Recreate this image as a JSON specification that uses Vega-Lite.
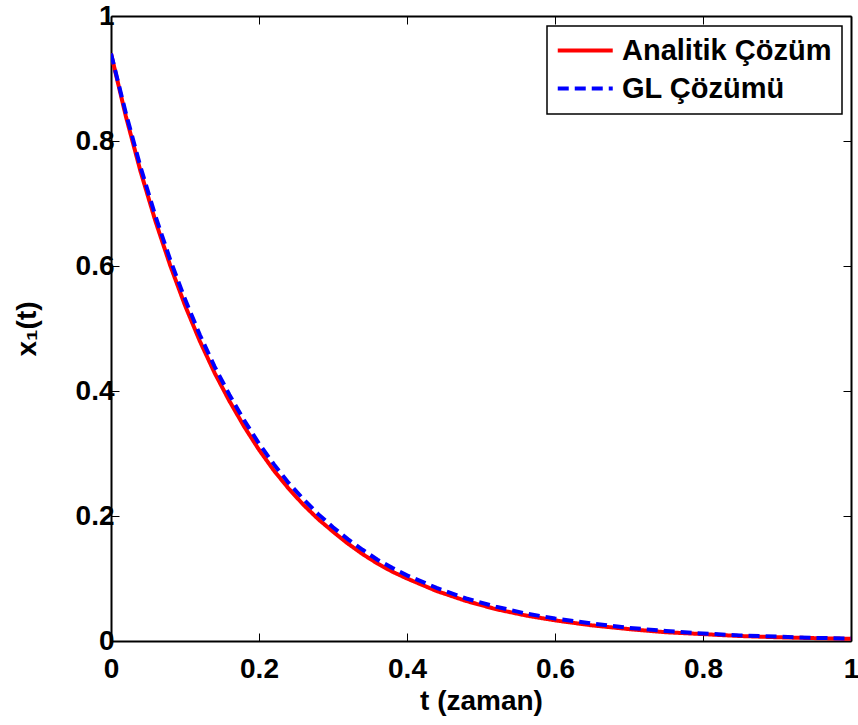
{
  "$schema": "https://vega.github.io/schema/vega-lite/v6.json",
  "width": 740,
  "height": 625,
  "autosize": {"type": "none"},
  "padding": {"left": 111, "top": 16, "right": 7, "bottom": 84},
  "background": "white",
  "config": {
    "view": {"stroke": null},
    "font": "Liberation Sans",
    "axis": {
      "grid": false,
      "labelFont": "Liberation Sans",
      "labelFontWeight": "bold",
      "labelFontSize": 28,
      "labelColor": "black",
      "titleFont": "Liberation Sans",
      "titleFontWeight": "bold",
      "titleFontSize": 28,
      "titleColor": "black",
      "domainColor": "black",
      "domainWidth": 2,
      "tickColor": "black",
      "tickWidth": 1,
      "tickSize": -8,
      "labelOverlap": false,
      "labelBound": false,
      "labelFlush": false
    }
  },
  "datasets": {
    "curves": [
      {"t": 0, "x": 0.94, "s": "Analitik Çözüm"},
      {"t": 0.02, "x": 0.84, "s": "Analitik Çözüm"},
      {"t": 0.04, "x": 0.751, "s": "Analitik Çözüm"},
      {"t": 0.06, "x": 0.672, "s": "Analitik Çözüm"},
      {"t": 0.08, "x": 0.601, "s": "Analitik Çözüm"},
      {"t": 0.10, "x": 0.537, "s": "Analitik Çözüm"},
      {"t": 0.12, "x": 0.48, "s": "Analitik Çözüm"},
      {"t": 0.14, "x": 0.429, "s": "Analitik Çözüm"},
      {"t": 0.16, "x": 0.384, "s": "Analitik Çözüm"},
      {"t": 0.18, "x": 0.343, "s": "Analitik Çözüm"},
      {"t": 0.20, "x": 0.306, "s": "Analitik Çözüm"},
      {"t": 0.22, "x": 0.273, "s": "Analitik Çözüm"},
      {"t": 0.24, "x": 0.244, "s": "Analitik Çözüm"},
      {"t": 0.26, "x": 0.218, "s": "Analitik Çözüm"},
      {"t": 0.28, "x": 0.195, "s": "Analitik Çözüm"},
      {"t": 0.30, "x": 0.175, "s": "Analitik Çözüm"},
      {"t": 0.32, "x": 0.156, "s": "Analitik Çözüm"},
      {"t": 0.34, "x": 0.139, "s": "Analitik Çözüm"},
      {"t": 0.36, "x": 0.124, "s": "Analitik Çözüm"},
      {"t": 0.38, "x": 0.111, "s": "Analitik Çözüm"},
      {"t": 0.40, "x": 0.1, "s": "Analitik Çözüm"},
      {"t": 0.44, "x": 0.08, "s": "Analitik Çözüm"},
      {"t": 0.48, "x": 0.064, "s": "Analitik Çözüm"},
      {"t": 0.52, "x": 0.051, "s": "Analitik Çözüm"},
      {"t": 0.56, "x": 0.041, "s": "Analitik Çözüm"},
      {"t": 0.60, "x": 0.033, "s": "Analitik Çözüm"},
      {"t": 0.65, "x": 0.025, "s": "Analitik Çözüm"},
      {"t": 0.70, "x": 0.019, "s": "Analitik Çözüm"},
      {"t": 0.75, "x": 0.014, "s": "Analitik Çözüm"},
      {"t": 0.80, "x": 0.011, "s": "Analitik Çözüm"},
      {"t": 0.85, "x": 0.008, "s": "Analitik Çözüm"},
      {"t": 0.90, "x": 0.006, "s": "Analitik Çözüm"},
      {"t": 0.95, "x": 0.0046, "s": "Analitik Çözüm"},
      {"t": 1.0, "x": 0.0035, "s": "Analitik Çözüm"},
      {"t": 0, "x": 0.94, "s": "GL Çözümü"},
      {"t": 0.02, "x": 0.845, "s": "GL Çözümü"},
      {"t": 0.04, "x": 0.758, "s": "GL Çözümü"},
      {"t": 0.06, "x": 0.68, "s": "GL Çözümü"},
      {"t": 0.08, "x": 0.61, "s": "GL Çözümü"},
      {"t": 0.10, "x": 0.547, "s": "GL Çözümü"},
      {"t": 0.12, "x": 0.49, "s": "GL Çözümü"},
      {"t": 0.14, "x": 0.439, "s": "GL Çözümü"},
      {"t": 0.16, "x": 0.394, "s": "GL Çözümü"},
      {"t": 0.18, "x": 0.353, "s": "GL Çözümü"},
      {"t": 0.20, "x": 0.316, "s": "GL Çözümü"},
      {"t": 0.22, "x": 0.283, "s": "GL Çözümü"},
      {"t": 0.24, "x": 0.253, "s": "GL Çözümü"},
      {"t": 0.26, "x": 0.227, "s": "GL Çözümü"},
      {"t": 0.28, "x": 0.203, "s": "GL Çözümü"},
      {"t": 0.30, "x": 0.182, "s": "GL Çözümü"},
      {"t": 0.32, "x": 0.163, "s": "GL Çözümü"},
      {"t": 0.34, "x": 0.146, "s": "GL Çözümü"},
      {"t": 0.36, "x": 0.13, "s": "GL Çözümü"},
      {"t": 0.38, "x": 0.117, "s": "GL Çözümü"},
      {"t": 0.40, "x": 0.105, "s": "GL Çözümü"},
      {"t": 0.44, "x": 0.085, "s": "GL Çözümü"},
      {"t": 0.48, "x": 0.068, "s": "GL Çözümü"},
      {"t": 0.52, "x": 0.055, "s": "GL Çözümü"},
      {"t": 0.56, "x": 0.044, "s": "GL Çözümü"},
      {"t": 0.60, "x": 0.036, "s": "GL Çözümü"},
      {"t": 0.65, "x": 0.028, "s": "GL Çözümü"},
      {"t": 0.70, "x": 0.021, "s": "GL Çözümü"},
      {"t": 0.75, "x": 0.016, "s": "GL Çözümü"},
      {"t": 0.80, "x": 0.012, "s": "GL Çözümü"},
      {"t": 0.85, "x": 0.009, "s": "GL Çözümü"},
      {"t": 0.90, "x": 0.007, "s": "GL Çözümü"},
      {"t": 0.95, "x": 0.005, "s": "GL Çözümü"},
      {"t": 1.0, "x": 0.004, "s": "GL Çözümü"}
    ]
  },
  "data": {"name": "curves"},
  "resolve": {"axis": {"x": "independent", "y": "independent"}},
  "layer": [
    {
      "mark": {"type": "line", "strokeWidth": 4, "clip": true},
      "encoding": {
        "x": {
          "field": "t", "type": "quantitative",
          "scale": {"domain": [0, 1], "nice": false, "zero": false},
          "axis": {"orient": "bottom", "values": [0, 0.2, 0.4, 0.6, 0.8, 1], "format": "~g", "labelPadding": 22, "title": "t (zaman)", "titlePadding": 4}
        },
        "y": {
          "field": "x", "type": "quantitative",
          "scale": {"domain": [0, 1], "nice": false, "zero": false},
          "axis": {"orient": "left", "values": [0, 0.2, 0.4, 0.6, 0.8, 1], "format": "~g", "labelPadding": 5, "title": "x₁(t)", "titlePadding": 34}
        },
        "color": {
          "field": "s", "type": "nominal",
          "scale": {"domain": ["Analitik Çözüm", "GL Çözümü"], "range": ["#ff0000", "#0000ff"]},
          "legend": {
            "title": null,
            "orient": "none",
            "legendX": 436,
            "legendY": 10,
            "strokeColor": "black",
            "fillColor": "white",
            "padding": 10,
            "rowPadding": 8,
            "labelFont": "Liberation Sans",
            "labelFontWeight": "bold",
            "labelFontSize": 29,
            "labelColor": "black",
            "labelLimit": 400,
            "symbolType": "M-3,0H9",
            "symbolSize": 84,
            "symbolStrokeWidth": 4,
            "labelOffset": 36,
            "encode": {"legend": {"update": {"strokeWidth": {"value": 1.5}}}}
          }
        },
        "strokeDash": {
          "field": "s", "type": "nominal",
          "scale": {"domain": ["Analitik Çözüm", "GL Çözümü"], "range": [[1, 0], [11, 6]]},
          "legend": {
            "title": null,
            "orient": "none",
            "legendX": 436,
            "legendY": 10
          }
        }
      }
    },
    {
      "mark": {"type": "point", "opacity": 0},
      "encoding": {
        "x": {
          "field": "t", "type": "quantitative",
          "scale": {"domain": [0, 1], "nice": false, "zero": false},
          "axis": {"orient": "top", "values": [0, 0.2, 0.4, 0.6, 0.8, 1], "labels": false, "title": null}
        },
        "y": {
          "field": "x", "type": "quantitative",
          "scale": {"domain": [0, 1], "nice": false, "zero": false},
          "axis": {"orient": "right", "values": [0, 0.2, 0.4, 0.6, 0.8, 1], "labels": false, "title": null}
        }
      }
    }
  ]
}
